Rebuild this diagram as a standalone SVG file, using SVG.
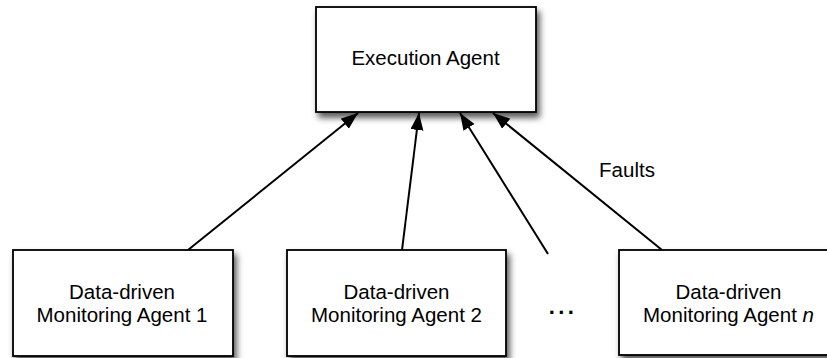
<svg xmlns="http://www.w3.org/2000/svg" width="827" height="358" viewBox="0 0 827 358">
  <style>
    .box { fill: #ffffff; stroke: #000000; stroke-width: 1.8; filter: url(#shadow); }
    .label { font-family: "Liberation Sans", Arial, Helvetica, sans-serif; font-size: 20.5px; fill: #000000; text-anchor: middle; }
    .edge { stroke: #000000; stroke-width: 2; fill: none; marker-end: url(#arrow); }
    .dots { font-family: "Liberation Sans", Arial, Helvetica, sans-serif; font-size: 22px; font-weight: bold; fill: #000000; text-anchor: middle; letter-spacing: 3.4px; }
  </style>
  <defs>
    <filter id="shadow" x="-10%" y="-10%" width="130%" height="140%">
      <feDropShadow dx="3" dy="5" stdDeviation="3" flood-color="#000000" flood-opacity="0.65"/>
    </filter>
    <marker id="arrow" markerUnits="userSpaceOnUse" markerWidth="18" markerHeight="14" refX="17" refY="6.5" orient="auto">
      <path d="M0,0 L17,6.5 L0,13 z" fill="#000000"/>
    </marker>
  </defs>

  <rect width="827" height="358" fill="#ffffff"/>

  <!-- connectors: monitoring agents report faults upwards -->
  <g id="connectors">
    <line class="edge" x1="188" y1="250" x2="358" y2="113"/>
    <line class="edge" x1="402" y1="250" x2="419" y2="113"/>
    <line class="edge" x1="548" y1="254" x2="460" y2="113"/>
    <line class="edge" x1="662" y1="250" x2="493" y2="113"/>
    <text class="label" x="627" y="177">Faults</text>
  </g>

  <g id="execution-agent">
    <rect class="box" x="316" y="7" width="220" height="105"/>
    <text class="label" x="425.5" y="65">Execution Agent</text>
  </g>

  <g id="monitoring-agent-1">
    <rect class="box" x="13" y="250" width="220" height="106"/>
    <text class="label" x="122" y="299">Data-driven</text>
    <text class="label" x="122" y="322">Monitoring Agent 1</text>
  </g>

  <g id="monitoring-agent-2">
    <rect class="box" x="287" y="250" width="219" height="106"/>
    <text class="label" x="396.5" y="299">Data-driven</text>
    <text class="label" x="396.5" y="322">Monitoring Agent 2</text>
  </g>

  <g id="ellipsis">
    <text class="dots" x="563" y="314">...</text>
  </g>

  <g id="monitoring-agent-n">
    <rect class="box" x="619" y="250" width="220" height="105"/>
    <text class="label" x="728.5" y="299">Data-driven</text>
    <text class="label" x="728.5" y="322">Monitoring Agent <tspan font-style="italic">n</tspan></text>
  </g>
</svg>
